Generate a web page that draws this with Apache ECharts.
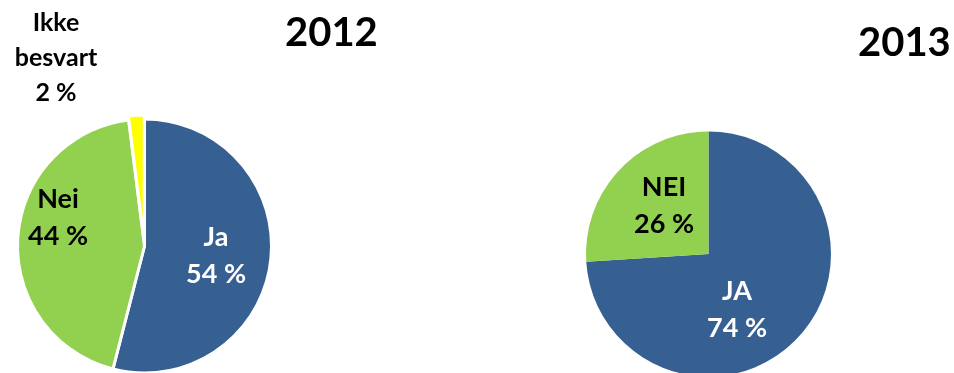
<!DOCTYPE html>
<html>
<head>
<meta charset="utf-8">
<script src="https://cdn.jsdelivr.net/npm/echarts@6/dist/echarts.min.js"></script>
<style>
  html, body { margin: 0; padding: 0; background: #ffffff; }
  #chart { width: 954px; height: 373px; }
</style>
</head>
<body>
<div id="chart"></div>
<script>
// Survey answers, percent of respondents
const years = ['2012', '2013'];
const categories2012 = ['Ja', 'Nei', 'Ikke besvart'];
const values2012 = [54, 44, 2];
const categories2013 = ['JA', 'NEI'];
const values2013 = [74, 26];

const BLUE = '#376092';
const GREEN = '#92D050';
const YELLOW = '#FFFF00';
const FONT = 'Lato, "Open Sans", sans-serif';

// label anchor points (pixel centres of each label block)
const labelSpots2012 = [[216, 256], [58, 218], [56, 58]];
const labelSpots2013 = [[737, 310], [664, 206]];

const colors2012 = [BLUE, GREEN, YELLOW];
const textColors2012 = ['#ffffff', '#000000', '#000000'];
const colors2013 = [BLUE, GREEN];
const textColors2013 = ['#ffffff', '#000000'];

function labelText(name, value) {
  return name.replace(' ', '\n') + '\n' + value + ' %';
}
function fmt(p) {
  return labelText(p.name, p.value);
}

const chart = echarts.init(document.getElementById('chart'), null, { renderer: 'canvas' });

// the pulled-out "Ikke besvart" slice carries its label as a free text element
const smallIdx = 2;

chart.setOption({
  backgroundColor: '#ffffff',
  animation: false,
  title: [
    { text: years[0], left: 285, top: 13, padding: 0,
      textStyle: { fontFamily: FONT, fontWeight: 'bold', fontSize: 40, color: '#000' } },
    { text: years[1], left: 858, top: 23, padding: 0,
      textStyle: { fontFamily: FONT, fontWeight: 'bold', fontSize: 40, color: '#000' } }
  ],
  graphic: [{
    type: 'text',
    silent: true,
    style: {
      text: labelText(categories2012[smallIdx], values2012[smallIdx]),
      x: labelSpots2012[smallIdx][0],
      y: labelSpots2012[smallIdx][1],
      align: 'center',
      verticalAlign: 'middle',
      fontFamily: FONT,
      fontWeight: 'bold',
      fontSize: 25,
      lineHeight: 35,
      fill: textColors2012[smallIdx]
    }
  }],
  series: [
    {
      type: 'pie',
      center: [144.5, 246],
      radius: [0, 127],
      startAngle: 90,
      clockwise: true,
      silent: true,
      selectedMode: 'multiple',
      selectedOffset: 4,
      itemStyle: { borderColor: '#ffffff', borderWidth: 3 },
      label: {
        show: true,
        position: 'inside',
        formatter: fmt,
        fontFamily: FONT,
        fontWeight: 'bold',
        fontSize: 27,
        lineHeight: 37,
        align: 'center',
        verticalAlign: 'middle'
      },
      labelLine: { show: false },
      labelLayout: function (p) {
        const s = labelSpots2012[p.dataIndex];
        return { x: s[0], y: s[1], align: 'center', verticalAlign: 'middle' };
      },
      data: categories2012.map((c, i) => ({
        name: c,
        value: values2012[i],
        selected: i === smallIdx,
        itemStyle: { color: colors2012[i] },
        label: i === smallIdx ? { show: false } : { color: textColors2012[i] }
      }))
    },
    {
      type: 'pie',
      center: [708.5, 254],
      radius: [0, 122.5],
      startAngle: 90,
      clockwise: true,
      silent: true,
      itemStyle: { borderWidth: 0 },
      label: {
        show: true,
        position: 'inside',
        formatter: fmt,
        fontFamily: FONT,
        fontWeight: 'bold',
        fontSize: 27,
        lineHeight: 37,
        align: 'center',
        verticalAlign: 'middle'
      },
      labelLine: { show: false },
      labelLayout: function (p) {
        const s = labelSpots2013[p.dataIndex];
        return { x: s[0], y: s[1], align: 'center', verticalAlign: 'middle' };
      },
      data: categories2013.map((c, i) => ({
        name: c,
        value: values2013[i],
        itemStyle: { color: colors2013[i] },
        label: { color: textColors2013[i] }
      }))
    }
  ]
});
</script>
</body>
</html>
